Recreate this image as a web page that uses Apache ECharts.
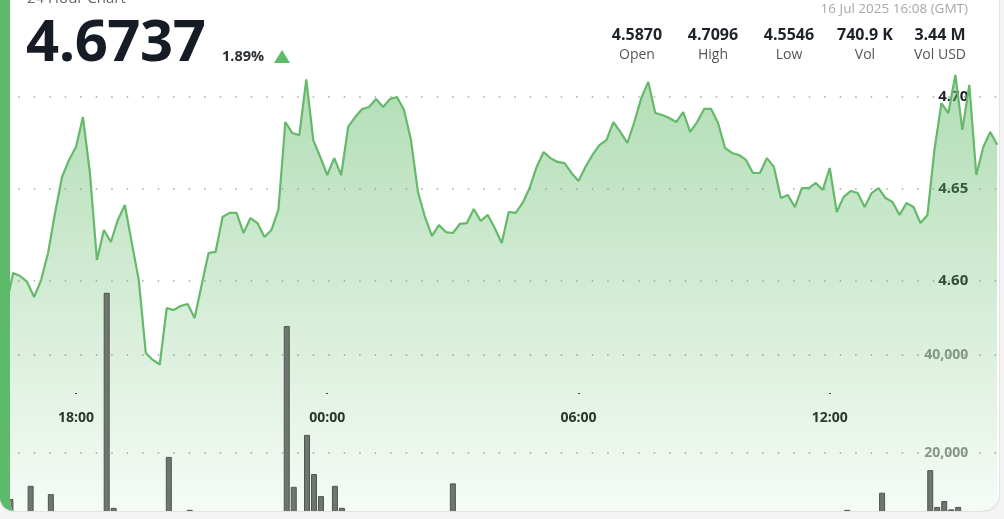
<!DOCTYPE html>
<html><head><meta charset="utf-8">
<script src="https://cdn.jsdelivr.net/npm/echarts@6/dist/echarts.min.js"></script>
<style>
html,body{margin:0;padding:0;width:1004px;height:519px;overflow:hidden;background:#f3f4f3;font-family:"Open Sans",sans-serif;}
#card{position:absolute;left:0;top:-20px;width:999px;height:531px;box-sizing:border-box;border-left:10px solid #5cba6a;border-radius:0 0 16px 14px;background:#fff;overflow:hidden;box-shadow:0 0 2px rgba(0,0,0,.25);}
#chart{position:absolute;left:-10px;top:20px;width:1004px;height:560px;}
.t{position:absolute;line-height:1;white-space:nowrap;z-index:5;}
.col{position:absolute;width:90px;text-align:center;line-height:1;white-space:nowrap;z-index:5;}
</style></head><body>
<div id="card"><div id="chart"></div></div>
<div id="hdr"></div>
<script>
// ---- data ----
const chartTitle = '24 Hour Chart';
const lastPrice = '4.6737';
const changePct = '1.89%';
const dateText = '16 Jul 2025 16:08 (GMT)';
const statValues = ['4.5870', '4.7096', '4.5546', '740.9 K', '3.44 M'];
const statLabels = ['Open', 'High', 'Low', 'Vol', 'Vol USD'];

const priceStart = Date.UTC(2025, 6, 15, 16, 20); // first point, 10-minute steps
const stepMinutes = 10;
const prices = [
 4.5870, 4.6043, 4.6027, 4.5995, 4.5913, 4.6005, 4.6152, 4.6370, 4.6565, 4.6658,
 4.6728, 4.6891, 4.6587, 4.6114, 4.6277, 4.6212, 4.6332, 4.6413, 4.6207, 4.6005,
 4.5609, 4.5571, 4.5546, 4.5853, 4.5842, 4.5864, 4.5875, 4.5799, 4.5978, 4.6152,
 4.6158, 4.6348, 4.6370, 4.6370, 4.6261, 4.6342, 4.6315, 4.6239, 4.6277, 4.6386,
 4.6864, 4.6804, 4.6793, 4.7096, 4.6766, 4.6674, 4.6576, 4.6668, 4.6576, 4.6837,
 4.6891, 4.6935, 4.6946, 4.6989, 4.6946, 4.6989, 4.7000, 4.6929, 4.6766, 4.6484,
 4.6348, 4.6245, 4.6304, 4.6266, 4.6261, 4.6310, 4.6315, 4.6391, 4.6326, 4.6359,
 4.6288, 4.6207, 4.6375, 4.6370, 4.6424, 4.6505, 4.6620, 4.6701, 4.6668, 4.6647,
 4.6641, 4.6587, 4.6543, 4.6620, 4.6685, 4.6739, 4.6766, 4.6864, 4.6810, 4.6750,
 4.6864, 4.6995, 4.7082, 4.6913, 4.6902, 4.6886, 4.6864, 4.6918, 4.6810, 4.6864,
 4.6935, 4.6935, 4.6859, 4.6723, 4.6696, 4.6685, 4.6658, 4.6587, 4.6587, 4.6668,
 4.6620, 4.6451, 4.6467, 4.6402, 4.6505, 4.6505, 4.6533, 4.6495, 4.6614, 4.6375,
 4.6457, 4.6489, 4.6478, 4.6402, 4.6478, 4.6505, 4.6451, 4.6429, 4.6359, 4.6424,
 4.6402, 4.6315, 4.6359, 4.6712, 4.6967, 4.6913, 4.7120, 4.6821, 4.7065, 4.6576,
 4.6728, 4.6810, 4.6740
];

const volTimes = [
 '2025-07-15T16:26:00Z', '2025-07-15T16:55:00Z', '2025-07-15T17:24:00Z', '2025-07-15T18:44:00Z',
 '2025-07-15T18:54:00Z', '2025-07-15T20:13:00Z', '2025-07-15T20:43:00Z', '2025-07-15T23:02:00Z',
 '2025-07-15T23:12:00Z', '2025-07-15T23:31:00Z', '2025-07-15T23:41:00Z', '2025-07-15T23:51:00Z',
 '2025-07-16T00:11:00Z', '2025-07-16T00:21:00Z', '2025-07-16T03:00:00Z', '2025-07-16T12:25:00Z',
 '2025-07-16T13:15:00Z', '2025-07-16T14:24:00Z', '2025-07-16T14:34:00Z', '2025-07-16T14:44:00Z',
 '2025-07-16T14:54:00Z', '2025-07-16T15:04:00Z'
];
const volValues = [
 10600, 13300, 11600, 52700,
 8800, 19200, 8400, 45900,
 13100, 23700, 15700, 11200,
 13300, 8800, 13800, 8400,
 11900, 16500, 9000, 10200,
 8500, 9000
];

const timeTicks = ['2025-07-15T18:00:00Z', '2025-07-16T00:00:00Z', '2025-07-16T06:00:00Z', '2025-07-16T12:00:00Z'];
const priceTicks = [4.60, 4.65, 4.70];
const volTicks = [20000, 40000];

// ---- header (HTML text) ----
const hdr = document.getElementById('hdr');
function addText(txt, style, cls) {
  const d = document.createElement('div');
  d.className = cls || 't';
  d.textContent = txt;
  d.setAttribute('style', style);
  hdr.appendChild(d);
  return d;
}
addText(chartTitle, 'left:27px;top:-10px;font-size:15px;color:#666;');
addText(lastPrice, 'left:26px;top:10px;font-size:58px;font-weight:700;color:#161c26;letter-spacing:-0.5px;');
addText(changePct, 'left:222px;top:48.5px;font-size:14.5px;font-weight:700;color:#2a2f33;');
const tri = document.createElement('div');
tri.setAttribute('style', 'position:absolute;left:274px;top:50px;width:0;height:0;border-left:8px solid transparent;border-right:8px solid transparent;border-bottom:13px solid #5cba6a;z-index:5;');
hdr.appendChild(tri);
addText(dateText, 'right:36px;top:2px;font-size:13.5px;color:#a7a7a7;');
const centers = [637, 713, 789, 865, 940];
statValues.forEach((v, i) => {
  addText(v, 'left:' + (centers[i] - 45) + 'px;top:25.5px;font-size:16px;font-weight:700;color:#1e2329;', 'col');
  addText(statLabels[i], 'left:' + (centers[i] - 45) + 'px;top:47px;font-size:14px;color:#555;', 'col');
});

// ---- chart ----
const xMin = Date.UTC(2025, 6, 15, 16, 15);
const xMax = Date.UTC(2025, 6, 16, 16, 0);
const timeTickVals = timeTicks.map(t => Date.parse(t));
const pad = n => (n < 10 ? '0' : '') + n;
const dotted = { color: '#a4a8a4', width: 1.5, type: [1.5, 14] };

const chart = echarts.init(document.getElementById('chart'), null, { renderer: 'canvas' });
chart.setOption({
  animation: false,
  grid: [
    { left: 2.7, right: 6.75, top: 5, bottom: 3, containLabel: false, outerBoundsMode: 'none' },
    { left: 2.7, right: 6.75, top: 61, bottom: 9, containLabel: false, outerBoundsMode: 'none' }
  ],
  xAxis: [
    {
      type: 'value', gridIndex: 0, min: xMin, max: xMax, position: 'bottom', offset: -164,
      axisLine: { show: false, onZero: false },
      axisTick: { show: true, customValues: timeTickVals, length: 1, lineStyle: { color: '#333', width: 2 } },
      axisLabel: {
        customValues: timeTickVals, margin: 18, color: '#222', fontWeight: 'bold', fontSize: 14,
        fontFamily: 'Open Sans',
        formatter: v => { const d = new Date(v); return pad(d.getUTCHours()) + ':' + pad(d.getUTCMinutes()); }
      },
      splitLine: { show: false }
    },
    { type: 'value', gridIndex: 1, min: xMin, max: xMax, show: false, splitLine: { show: false } }
  ],
  yAxis: [
    {
      type: 'value', gridIndex: 0, min: 4.45, max: 4.75, position: 'right',
      axisLine: { show: false }, axisTick: { show: false, customValues: priceTicks },
      axisLabel: { inside: true, margin: 29, customValues: priceTicks, formatter: v => v.toFixed(2),
        color: '#1f2328', fontWeight: 'bold', fontSize: 15, fontFamily: 'Open Sans' },
      splitLine: { show: true, lineStyle: dotted }
    },
    {
      type: 'value', gridIndex: 1, min: 0, max: 100000, position: 'right',
      axisLine: { show: false }, axisTick: { show: false, customValues: volTicks },
      axisLabel: { inside: true, margin: 29, customValues: volTicks, formatter: v => v.toLocaleString('en-US'),
        color: '#8d918d', fontWeight: 'bold', fontSize: 14, fontFamily: 'Open Sans' },
      splitLine: { show: true, lineStyle: dotted }
    }
  ],
  series: [
    {
      type: 'line', xAxisIndex: 0, yAxisIndex: 0, symbol: 'none', z: 2,
      data: prices.map((p, i) => [priceStart + i * stepMinutes * 60000, p]),
      lineStyle: { color: '#64b96b', width: 2.2 },
      areaStyle: { color: { type: 'linear', x: 0, y: 0, x2: 0, y2: 1, colorStops: [
        { offset: 0, color: 'rgba(92,184,98,0.68)' },
        { offset: 1, color: 'rgba(92,184,98,0.02)' }
      ] } }
    },
    {
      type: 'bar', xAxisIndex: 1, yAxisIndex: 1, z: 3, barWidth: 6,
      data: volTimes.map((t, i) => [Date.parse(t), volValues[i]]),
      itemStyle: { color: '#6f7670', borderColor: '#4e554f', borderWidth: 1 }
    }
  ]
});
</script>
</body></html>
